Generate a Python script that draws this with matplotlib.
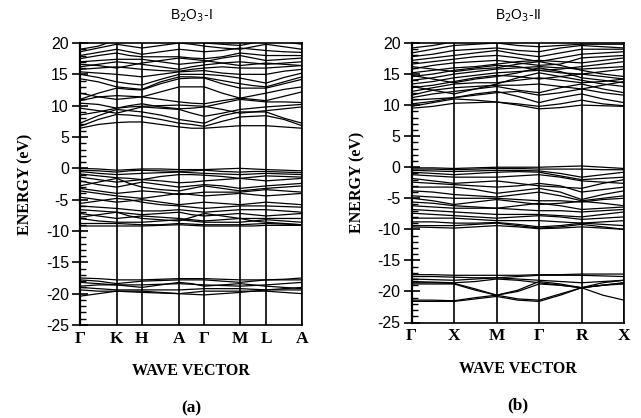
import matplotlib
matplotlib.use("Agg")
import matplotlib.pyplot as plt
import numpy as np

plt.rcParams["axes.unicode_minus"] = False

# ---------------- data ----------------
kpath_a = ["Γ", "K", "H", "A", "Γ", "M", "L", "A"]
kpos_a = [0.0, 0.165, 0.279, 0.447, 0.56, 0.721, 0.838, 1.0]
kpath_b = ["Γ", "X", "M", "Γ", "R", "X"]
kpos_b = [0.0, 0.2, 0.4, 0.6, 0.8, 1.0]

# energies (eV) at: point, mid, point, mid, ... along path
bands_a_cond = [
    [6.4, 7.0, 7.3, 7.4, 7.4, 7.0, 6.6, 6.4, 6.4, 6.6, 6.8, 6.8, 6.8, 6.6, 6.4],
    [6.7, 7.8, 8.6, 8.5, 8.3, 7.8, 7.2, 7.0, 6.7, 7.5, 8.2, 8.3, 8.4, 7.8, 6.8],
    [7.2, 8.4, 9.4, 9.2, 9.0, 8.5, 7.8, 7.5, 7.2, 8.4, 9.0, 9.0, 9.0, 8.0, 7.2],
    [8.5, 9.0, 9.6, 9.8, 9.9, 10.0, 10.1, 10.0, 9.9, 9.4, 8.8, 9.0, 9.2, 9.5, 9.8],
    [9.6, 9.2, 8.8, 9.3, 9.8, 9.6, 9.4, 8.8, 8.3, 8.8, 9.4, 9.6, 9.8, 10.0, 10.2],
    [10.4, 10.2, 9.6, 10.0, 10.3, 9.8, 9.5, 9.6, 9.8, 10.4, 11.0, 10.8, 10.6, 10.6, 10.5],
    [10.8, 11.4, 11.6, 11.5, 11.4, 11.0, 10.6, 10.4, 10.3, 10.8, 11.2, 11.0, 10.8, 11.5, 12.2],
    [11.0, 12.0, 12.8, 12.6, 12.5, 13.5, 14.3, 14.4, 14.4, 13.5, 12.8, 12.8, 12.8, 13.5, 14.2],
    [14.3, 13.8, 13.0, 12.8, 12.6, 13.8, 14.6, 14.6, 14.5, 14.0, 13.5, 13.2, 13.0, 13.8, 14.6],
    [15.0, 14.5, 13.8, 13.5, 13.3, 14.2, 15.0, 15.0, 15.0, 14.8, 14.4, 14.0, 13.6, 14.5, 15.2],
    [15.4, 15.2, 15.0, 14.8, 14.6, 15.0, 15.4, 15.5, 15.6, 15.2, 15.0, 15.0, 15.0, 15.5, 15.8],
    [15.8, 16.0, 16.2, 16.0, 15.8, 15.6, 15.5, 15.8, 16.0, 16.2, 16.0, 16.0, 16.0, 16.2, 16.4],
    [16.2, 16.6, 17.0, 16.8, 16.6, 16.2, 15.8, 16.2, 16.5, 16.8, 17.0, 16.8, 16.6, 16.8, 17.0],
    [17.0, 17.2, 17.4, 17.4, 17.4, 17.0, 16.6, 16.8, 17.0, 17.6, 18.0, 17.6, 17.2, 17.4, 17.6],
    [17.5, 18.0, 18.4, 18.0, 17.8, 17.8, 17.8, 17.6, 17.5, 17.8, 18.4, 18.2, 18.0, 18.0, 18.0],
    [18.0, 18.5, 19.0, 18.6, 18.2, 18.6, 19.0, 18.8, 18.6, 18.8, 19.2, 19.0, 18.8, 18.6, 18.5],
    [18.6, 19.2, 19.8, 19.5, 19.2, 19.6, 20.0, 19.8, 19.5, 19.2, 19.0, 19.4, 19.8, 19.4, 19.0],
    [19.0, 19.5, 20.5, 20.5, 20.2, 20.5, 20.6, 20.4, 20.0, 19.8, 19.6, 20.0, 20.4, 20.2, 19.8],
    [16.6, 16.4, 16.0, 16.4, 16.8, 17.2, 17.6, 17.4, 17.2, 16.8, 16.4, 16.6, 16.8, 16.6, 16.4],
    [12.0, 11.4, 11.0, 11.2, 11.4, 12.2, 13.0, 13.0, 13.0, 12.0, 11.2, 11.6, 12.0, 12.6, 13.0],
]
bands_a_val = [
    [0.0, -0.1, -0.3, -0.2, -0.1, -0.1, -0.2, -0.2, -0.2, -0.1, 0.0, -0.1, -0.2, -0.3, -0.4],
    [-0.3, -0.4, -0.6, -0.4, -0.3, -0.4, -0.5, -0.4, -0.3, -0.5, -0.6, -0.5, -0.5, -0.6, -0.7],
    [-0.5, -0.8, -1.0, -0.9, -0.8, -0.7, -0.6, -0.7, -0.8, -0.9, -1.0, -0.9, -0.8, -0.9, -1.0],
    [-0.9, -1.2, -1.5, -1.6, -1.8, -1.3, -1.0, -1.0, -1.1, -1.3, -1.6, -1.4, -1.2, -1.3, -1.4],
    [-1.4, -1.8, -2.2, -2.0, -1.8, -2.0, -2.3, -2.2, -2.0, -1.8, -1.6, -1.8, -2.0, -1.8, -1.6],
    [-2.0, -2.6, -3.0, -2.6, -2.2, -2.6, -3.0, -2.8, -2.6, -2.8, -3.2, -3.0, -2.8, -2.6, -2.4],
    [-2.8, -2.2, -1.6, -2.4, -3.0, -3.4, -3.6, -3.2, -2.8, -3.2, -3.6, -3.4, -3.2, -3.0, -2.8],
    [-3.2, -3.6, -4.0, -3.8, -3.6, -3.8, -4.2, -4.0, -3.8, -3.8, -3.8, -3.6, -3.4, -3.6, -3.8],
    [-3.6, -4.0, -4.4, -4.6, -4.8, -4.4, -4.0, -4.2, -4.4, -4.2, -4.0, -4.2, -4.4, -4.2, -4.0],
    [-4.6, -5.0, -5.4, -5.2, -5.0, -5.4, -5.8, -5.6, -5.4, -5.6, -5.8, -5.6, -5.4, -5.6, -5.8],
    [-5.6, -5.2, -4.8, -5.0, -5.4, -5.8, -6.0, -6.2, -6.4, -6.2, -6.0, -6.0, -6.0, -6.1, -6.2],
    [-6.0, -6.2, -6.4, -6.6, -6.8, -6.8, -6.6, -6.8, -7.0, -6.8, -6.6, -6.6, -6.6, -6.8, -7.0],
    [-6.6, -6.8, -7.0, -7.2, -7.4, -7.2, -7.0, -7.4, -7.6, -7.4, -7.2, -7.4, -7.6, -7.4, -7.2],
    [-7.2, -7.6, -8.0, -7.8, -7.6, -7.8, -8.0, -8.2, -8.4, -8.2, -8.0, -8.0, -8.0, -8.0, -8.0],
    [-8.0, -8.4, -8.6, -8.6, -8.6, -8.4, -8.2, -8.4, -8.6, -8.6, -8.6, -8.4, -8.2, -8.4, -8.6],
    [-8.8, -8.8, -8.8, -8.9, -9.0, -9.0, -8.8, -8.9, -9.0, -9.0, -9.0, -8.9, -8.8, -8.9, -9.0],
    [-9.2, -9.2, -9.2, -9.2, -9.2, -9.1, -9.0, -9.1, -9.2, -9.2, -9.2, -9.2, -9.1, -9.1, -9.1],
    [-7.8, -7.4, -7.0, -7.6, -8.0, -8.2, -8.4, -7.8, -7.2, -7.6, -8.0, -8.4, -8.6, -8.8, -9.0],
]
bands_a_low = [
    [-17.5, -17.6, -17.8, -17.8, -17.8, -17.7, -17.6, -17.6, -17.6, -17.7, -17.8, -17.8, -17.8, -17.7, -17.5],
    [-17.8, -18.0, -18.4, -18.2, -18.0, -17.9, -17.8, -17.8, -17.8, -18.0, -18.2, -18.0, -17.8, -17.8, -17.8],
    [-18.2, -18.4, -18.6, -18.6, -18.6, -18.5, -18.4, -18.5, -18.6, -18.7, -18.8, -18.7, -18.6, -18.4, -18.2],
    [-19.0, -19.2, -19.4, -19.4, -19.4, -19.4, -19.4, -19.3, -19.2, -19.2, -19.2, -19.3, -19.4, -19.2, -19.0],
    [-19.4, -19.6, -19.6, -19.6, -19.6, -19.8, -20.0, -19.8, -19.6, -19.6, -19.6, -19.6, -19.6, -19.8, -20.0],
    [-20.4, -20.0, -19.6, -19.7, -19.8, -19.9, -20.0, -20.1, -20.2, -20.0, -19.8, -19.6, -19.4, -19.4, -19.4],
    [-18.8, -18.6, -18.6, -18.8, -19.0, -18.6, -18.2, -18.4, -18.8, -18.6, -18.4, -18.6, -18.8, -19.0, -19.2],
]

bands_b_cond = [
    [9.5, 9.8, 10.3, 10.4, 10.5, 10.0, 9.4, 9.6, 10.0, 9.9, 9.8],
    [9.8, 10.4, 11.0, 10.8, 10.5, 10.2, 9.8, 10.2, 10.8, 10.2, 9.9],
    [10.2, 10.6, 11.2, 11.8, 12.2, 11.4, 10.4, 11.2, 11.8, 11.0, 10.4],
    [10.8, 11.0, 11.2, 11.6, 12.0, 12.2, 11.6, 12.0, 12.6, 12.0, 11.6],
    [11.2, 11.8, 12.2, 12.6, 13.0, 12.4, 12.0, 12.8, 13.4, 12.6, 12.0],
    [11.6, 12.4, 12.8, 13.0, 13.2, 13.2, 13.4, 13.0, 12.6, 13.2, 13.8],
    [12.2, 12.8, 13.4, 13.6, 13.6, 14.0, 14.4, 14.0, 13.6, 13.8, 14.2],
    [12.8, 13.2, 13.8, 14.4, 14.8, 14.6, 14.2, 14.6, 15.0, 14.6, 14.2],
    [13.4, 13.8, 14.4, 14.8, 15.2, 15.4, 15.6, 15.2, 15.0, 15.4, 15.8],
    [14.0, 14.4, 15.0, 15.4, 15.8, 16.0, 16.2, 16.0, 15.8, 16.0, 16.2],
    [14.6, 15.0, 15.6, 16.0, 16.4, 16.2, 15.6, 15.8, 16.2, 16.6, 17.0],
    [15.2, 15.6, 16.0, 16.2, 16.6, 17.0, 17.2, 17.0, 16.8, 17.2, 17.6],
    [15.8, 16.4, 16.8, 17.0, 17.2, 16.8, 16.4, 16.6, 17.6, 17.8, 18.0],
    [16.6, 17.0, 17.4, 17.8, 18.0, 17.6, 17.0, 17.6, 18.2, 18.4, 18.6],
    [17.2, 17.6, 18.0, 18.4, 18.8, 18.2, 17.8, 18.4, 19.0, 19.0, 19.0],
    [17.8, 18.2, 18.8, 19.0, 19.2, 18.8, 18.6, 19.2, 19.6, 19.4, 19.2],
    [18.4, 19.0, 19.6, 19.8, 20.0, 19.6, 19.4, 19.6, 19.8, 19.8, 19.8],
    [19.2, 19.6, 20.2, 20.5, 20.8, 20.5, 20.2, 20.4, 20.6, 20.4, 20.2],
    [13.0, 12.4, 11.8, 12.6, 13.4, 14.4, 15.2, 14.6, 14.0, 13.4, 13.0],
    [14.8, 14.2, 13.6, 14.2, 14.6, 15.2, 16.0, 15.4, 14.4, 14.0, 13.6],
    [16.2, 15.8, 15.4, 15.8, 16.0, 16.6, 17.0, 16.4, 15.6, 15.0, 14.6],
]
bands_b_val = [
    [-0.1, -0.1, -0.2, -0.1, 0.0, 0.0, 0.0, 0.1, 0.2, 0.0, -0.2],
    [-0.3, -0.3, -0.4, -0.3, -0.2, -0.2, -0.3, -0.3, -0.3, -0.4, -0.4],
    [-0.5, -0.6, -0.7, -0.6, -0.5, -0.5, -0.6, -1.0, -1.6, -1.2, -0.8],
    [-0.8, -1.0, -1.2, -1.0, -0.8, -0.7, -0.8, -1.4, -2.0, -1.8, -1.6],
    [-1.2, -1.4, -1.6, -1.6, -1.6, -1.4, -1.2, -1.6, -2.2, -2.4, -2.6],
    [-1.8, -2.2, -2.6, -2.4, -2.2, -2.6, -3.0, -3.2, -3.4, -2.6, -2.0],
    [-2.4, -2.6, -2.8, -3.0, -3.2, -3.0, -2.6, -3.0, -4.0, -3.6, -3.2],
    [-3.2, -3.2, -3.2, -3.6, -4.2, -3.8, -3.4, -4.0, -5.2, -4.4, -3.8],
    [-3.8, -4.0, -4.4, -4.6, -4.8, -4.4, -4.0, -4.6, -5.4, -5.0, -4.6],
    [-4.6, -4.8, -5.0, -5.0, -5.0, -5.2, -5.4, -5.4, -5.6, -5.2, -5.0],
    [-5.0, -5.4, -6.0, -5.6, -5.2, -5.6, -6.0, -5.8, -5.5, -5.8, -6.2],
    [-5.6, -5.8, -6.2, -6.4, -6.6, -6.2, -5.8, -6.2, -6.8, -6.6, -6.4],
    [-6.2, -6.4, -6.6, -6.6, -6.6, -6.8, -7.0, -7.0, -7.2, -7.0, -6.8],
    [-6.8, -7.0, -7.2, -7.4, -7.6, -7.6, -7.6, -7.8, -8.0, -7.6, -7.2],
    [-7.4, -7.6, -7.8, -8.0, -8.2, -8.0, -7.8, -8.0, -8.4, -8.2, -8.0],
    [-8.2, -8.2, -8.2, -8.4, -8.6, -8.6, -8.6, -8.8, -9.0, -8.8, -8.6],
    [-8.8, -8.8, -9.0, -9.0, -8.9, -9.2, -9.6, -9.4, -9.0, -9.2, -9.4],
    [-9.4, -9.4, -9.4, -9.2, -9.0, -9.4, -9.8, -9.6, -9.2, -9.6, -10.0],
    [-9.6, -9.7, -9.8, -9.6, -9.4, -9.6, -9.9, -9.8, -9.6, -9.8, -10.0],
]
bands_b_low = [
    [-17.3, -17.3, -17.4, -17.4, -17.4, -17.4, -17.3, -17.3, -17.2, -17.2, -17.2],
    [-17.6, -17.6, -17.7, -17.8, -17.8, -17.6, -17.4, -17.4, -17.4, -17.5, -17.6],
    [-18.0, -18.1, -18.2, -18.0, -17.8, -18.0, -18.2, -18.4, -18.6, -18.4, -18.2],
    [-18.4, -18.5, -18.6, -18.4, -18.0, -18.2, -18.6, -19.0, -19.4, -19.0, -18.6],
    [-18.6, -18.6, -18.7, -19.6, -20.6, -20.0, -18.8, -19.0, -19.4, -19.0, -18.8],
    [-18.8, -18.8, -18.8, -19.8, -20.6, -21.2, -21.4, -20.4, -19.4, -20.6, -21.4],
    [-21.4, -21.4, -21.5, -21.0, -20.6, -19.8, -18.4, -18.8, -19.4, -18.6, -18.2],
    [-21.6, -21.6, -21.6, -21.2, -20.8, -21.4, -21.6, -20.6, -19.4, -19.0, -18.6],
]

titles = ["B$_2$O$_3$-I", "B$_2$O$_3$-II"]
captions = ["(a)", "(b)"]
ylabel = "ENERGY (eV)"
xlabel = "WAVE VECTOR"

# ---------------- plot ----------------
fig = plt.figure(figsize=(6.41, 4.18), dpi=100)
axes_rects = [
    [80 / 641, 93 / 418, 222 / 641, 282 / 418],
    [411.7 / 641, 95.5 / 418, 212.3 / 641, 279.5 / 418],
]
serif = "Liberation Serif"
sans = "Liberation Sans"


def path_x(kpos):
    xs = []
    for i in range(len(kpos) - 1):
        xs.append(kpos[i])
        xs.append(0.5 * (kpos[i] + kpos[i + 1]))
    xs.append(kpos[-1])
    return np.array(xs)


panels = [
    (kpath_a, kpos_a, bands_a_cond + bands_a_val + bands_a_low),
    (kpath_b, kpos_b, bands_b_cond + bands_b_val + bands_b_low),
]

for i, (labels, kpos, bands) in enumerate(panels):
    ax = fig.add_axes(axes_rects[i])
    xs = path_x(kpos)
    for b in bands:
        ax.plot(xs, b, color="black", lw=0.9)
    for k in kpos:
        ax.axvline(k, color="black", lw=1.2)
    ax.set_xlim(0, 1)
    ax.set_ylim(-25, 20)
    ax.set_yticks(np.arange(-25, 21, 5))
    ax.set_yticks(np.arange(-25, 21, 1), minor=True)
    ax.tick_params(axis="y", which="major", direction="inout", length=12, width=1.2,
                   labelsize=11.5, pad=2)
    ax.tick_params(axis="y", which="minor", direction="in", length=4, width=1.0)
    for lab in ax.get_yticklabels():
        lab.set_fontfamily(sans)
    ax.set_xticks(kpos)
    ax.set_xticklabels(labels, fontfamily=serif, fontweight="bold", fontsize=12.5)
    ax.tick_params(axis="x", length=0, pad=4)
    for s in ax.spines.values():
        s.set_linewidth(1.2)
    ax.spines["left"].set_linewidth(1.6)
    ax.set_ylabel(ylabel, fontfamily=serif, fontweight="bold", fontsize=11.5, labelpad=9)
    ax.set_xlabel(xlabel, fontfamily=serif, fontweight="bold", fontsize=11.5, labelpad=12)
    ax.set_title(titles[i], fontfamily=sans, fontsize=10, pad=17)
    ax.text(0.5, -0.295, captions[i], transform=ax.transAxes, ha="center", va="center",
            fontfamily=serif, fontweight="bold", fontsize=12.5)

fig.savefig("out.png", dpi=100)
